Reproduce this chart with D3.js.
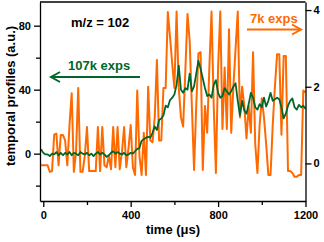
<!DOCTYPE html>
<html>
<head>
<meta charset="utf-8">
<script src="https://cdn.jsdelivr.net/npm/d3@7"></script>
<style>
  body { margin: 0; background: #fff; }
  text { font-family: "Liberation Sans", Arial, sans-serif; font-weight: bold; }
</style>
</head>
<body>
<div id="chart"></div>
<script>
// time grid (µs)
const timeUs = [-10, 0, 10, 20, 30, 40, 50, 60, 70, 80, 90, 100, 110, 120, 130, 140, 150, 160, 170, 180, 190,
  200, 210, 220, 230, 240, 250, 260, 270, 280, 290, 300, 310, 320, 330, 340, 350, 360, 370, 380, 390,
  400, 410, 420, 430, 440, 450, 460, 470, 480, 490, 500, 510, 520, 530, 540, 550, 560, 570, 580, 590,
  600, 610, 620, 630, 640, 650, 660, 670, 680, 690, 700, 710, 720, 730, 740, 750, 760, 770, 780, 790,
  800, 810, 820, 830, 840, 850, 860, 870, 880, 890, 900, 910, 920, 930, 940, 950, 960, 970, 980, 990,
  1000, 1010, 1020, 1030, 1040, 1050, 1060, 1070, 1080, 1090, 1100, 1110, 1120, 1130, 1140, 1150, 1160,
  1170, 1180, 1190, 1200]

// 107k exps, left axis
const green107k = [2.7, 0.5, -0.5, -0.5, -1.5, 0, -0.5, 1, -1, 0.5, -1, 0.5, -0.5, 1, -1, 0.5, 0, -1, 1, 0, -0.5,
  0.5, -1, 0, -1.5, 0, 1, -0.5, 0.5, -0.5, -2, -1, 0.5, 1.5, 0, 1, 0, -0.5, 0.5, -1, -0.5,
  0.5, 0, 1.5, 3, 3.5, 8, 9, 10, 10.5, 10, 13, 17, 14.8, 21, 22, 24, 30, 29, 33.5, 35,
  37, 43, 55, 40, 38, 41, 40, 50, 39, 42, 50, 58, 53, 47, 41, 36, 37, 35, 43, 46,
  38, 35, 36, 41, 39, 37, 39, 42, 44, 33, 24, 33, 27, 25, 31, 38, 35, 29, 27.5, 31,
  29, 35, 29.5, 33, 38, 33, 34, 35, 34, 29, 22, 25, 30, 33, 34.5, 29, 27.5,
  30.5, 29, 30, 28]

// 7k exps, right axis
const orange7k = [-0.05, -0.05, -0.05, -0.05, -0.22, -0.2, 0.75, 0.78, -0.05, 0.74, 0.74, 0.6, -0.05, 1.0, 1.83, -0.22, 0.3, 1.97, -0.22, -0.22, 0.2,
  0.95, -0.2, -0.2, -0.2, -0.2, 0.95, -0.2, 0.95, -0.05, -0.1, 0.2, -0.15, 0.95, -0.1, 0.95, -0.15, 0.3, 0.95, -0.1, 0.4,
  1.0, -0.1, -0.3, 1.9, 0.2, -0.3, 0.8, -0.3, 2.0, 0.6, 0.55, 1.2, 2.7, 0.6, 0.6, 1.97, 1.97, 3.95, 3.3, 2.6,
  1.97, 3.96, 1.97, 1.2, 0.96, 2.4, 3.9, 3.2, 1.5, -0.17, 1.5, 2.87, 2.9, -0.17, 1.5, 0.8, 2.5, 3.96, 1.5, -0.25,
  2.5, 3.96, 0.9, 2.5, 0.9, 3.5, 0.8, 2.0, 3.0, 3.96, 1.2, 2.0, 1.5, 0.65, 1.5, 0.8, 2.9, 0.5, -0.25, 1.0,
  1.7, 1.2, 0.5, -0.3, -0.3, 1.0, 2.0, 2.85, 2.85, 0.75, 2.8, 2.8, -0.2, -0.2, -0.25, -0.35, -0.35,
  -0.3, -0.3, 1.9, 1.85]

const xTicks = [0, 400, 800, 1200]
const xMinor = [200, 600, 1000]
const leftTicks = [0, 40, 80]
const leftMinor = [-20, 20, 60]
const rightTicks = [0, 2, 4]

const width = 324, height = 242
const plot = { left: 40, right: 305.5, top: 2, bottom: 201 }
const green = '#00672b'
const orange = '#ff6a00'
const fmt = d3.format('d')

const svg = d3.select('#chart')
  .append('svg')
  .attr('width', width)
  .attr('height', height)

const x = d3.scaleLinear().domain([-15, 1200]).range([plot.left, plot.right])
const yLeft = d3.scaleLinear().domain([-29.6, 94.8]).range([plot.bottom, plot.top])
const yRight = d3.scaleLinear().domain([-0.98, 4.21]).range([plot.bottom, plot.top])

const greenLine = d3.line().x((d, i) => x(timeUs[i])).y(d => yLeft(d))
const orangeLine = d3.line().x((d, i) => x(timeUs[i])).y(d => yRight(d))

svg.append('path')
  .datum(orange7k)
  .attr('d', orangeLine)
  .attr('fill', 'none')
  .attr('stroke', orange)
  .attr('stroke-width', 2)
  .attr('stroke-linejoin', 'round')

svg.append('path')
  .datum(green107k)
  .attr('d', greenLine)
  .attr('fill', 'none')
  .attr('stroke', green)
  .attr('stroke-width', 1.8)
  .attr('stroke-linejoin', 'round')

// axes
function styleAxis(g, size) {
  g.selectAll('.domain').attr('stroke-width', 1.3)
  g.selectAll('.tick line').attr('stroke-width', 1.3)
  g.selectAll('.tick text').attr('font-size', size).attr('font-weight', 'bold')
    .attr('font-family', '"Liberation Sans", Arial, sans-serif').attr('fill', '#000')
}

svg.append('g')
  .attr('transform', `translate(0,${plot.bottom})`)
  .call(d3.axisBottom(x).tickValues(xTicks).tickFormat(fmt).tickSize(6).tickPadding(4).tickSizeOuter(0))
  .call(g => styleAxis(g, 11))
svg.append('g')
  .attr('transform', `translate(0,${plot.bottom})`)
  .call(d3.axisBottom(x).tickValues(xMinor).tickSize(4).tickFormat(''))
  .call(g => g.select('.domain').remove())
  .call(g => styleAxis(g, 11))

svg.append('g')
  .attr('transform', `translate(${plot.left},0)`)
  .call(d3.axisLeft(yLeft).tickValues(leftTicks).tickFormat(fmt).tickSize(6).tickPadding(3).tickSizeOuter(0))
  .call(g => styleAxis(g, 11))
svg.append('g')
  .attr('transform', `translate(${plot.left},0)`)
  .call(d3.axisLeft(yLeft).tickValues(leftMinor).tickSize(4).tickFormat(''))
  .call(g => g.select('.domain').remove())
  .call(g => styleAxis(g, 11))

svg.append('g')
  .attr('transform', `translate(${plot.right},0)`)
  .call(d3.axisRight(yRight).tickValues(rightTicks).tickFormat(fmt).tickSize(6).tickPadding(2).tickSizeOuter(0))
  .call(g => styleAxis(g, 11))

svg.append('line')
  .attr('x1', plot.left).attr('x2', plot.right)
  .attr('y1', plot.top).attr('y2', plot.top)
  .attr('stroke', '#000').attr('stroke-width', 1.3)

// titles
svg.append('text')
  .attr('x', 173).attr('y', 234)
  .attr('text-anchor', 'middle')
  .attr('font-size', 13)
  .text('time (μs)')

svg.append('text')
  .attr('transform', 'translate(15,96) rotate(-90)')
  .attr('text-anchor', 'middle')
  .attr('font-size', 13)
  .text('temporal profiles (a.u.)')

svg.append('text')
  .attr('x', 71).attr('y', 27)
  .attr('font-size', 13)
  .text('m/z = 102')

// legend arrows
function arrow(x1, x2, y, color) {
  const dir = x2 > x1 ? -1 : 1
  svg.append('line')
    .attr('x1', x1).attr('x2', x2).attr('y1', y).attr('y2', y)
    .attr('stroke', color).attr('stroke-width', 2)
  svg.append('path')
    .attr('d', `M${x2 + dir * 9},${y - 5}L${x2},${y}L${x2 + dir * 9},${y + 5}`)
    .attr('fill', 'none')
    .attr('stroke', color).attr('stroke-width', 2)
}

svg.append('text')
  .attr('x', 68).attr('y', 70)
  .attr('font-size', 13)
  .attr('fill', green)
  .text('107k exps')
arrow(140, 51, 77, green)

svg.append('text')
  .attr('x', 250).attr('y', 23)
  .attr('font-size', 13)
  .attr('fill', orange)
  .text('7k exps')
arrow(247, 301, 29.5, orange)
</script>
</body>
</html>
